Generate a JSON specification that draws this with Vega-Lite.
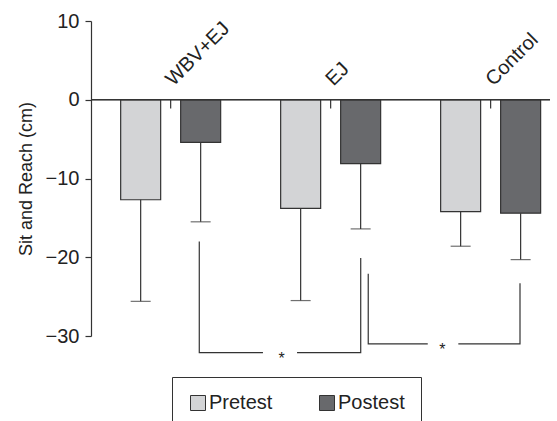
{
  "$schema": "https://vega.github.io/schema/vega-lite/v6.json",
  "width": 459,
  "height": 315,
  "autosize": {"type": "none"},
  "padding": {"left": 91, "top": 21, "right": 7, "bottom": 85},
  "config": {
    "font": "Liberation Sans",
    "view": {"stroke": null},
    "axis": {"grid": false}
  },
  "datasets": {
    "bars": [
      {"group": "WBV+EJ", "test": "Pretest", "mean": -12.7, "low": -25.6},
      {"group": "WBV+EJ", "test": "Postest", "mean": -5.4, "low": -15.5},
      {"group": "EJ", "test": "Pretest", "mean": -13.8, "low": -25.5},
      {"group": "EJ", "test": "Postest", "mean": -8.1, "low": -16.4},
      {"group": "Control", "test": "Pretest", "mean": -14.2, "low": -18.6},
      {"group": "Control", "test": "Postest", "mean": -14.4, "low": -20.3}
    ],
    "groups": [
      {"group": "WBV+EJ"},
      {"group": "EJ"},
      {"group": "Control"}
    ],
    "brackets": [
      {"seg": "b1L", "ord": 1, "pos": 1.183, "val": -18.0},
      {"seg": "b1L", "ord": 2, "pos": 1.183, "val": -32.1},
      {"seg": "b1L", "ord": 3, "pos": 1.581, "val": -32.1},
      {"seg": "b1R", "ord": 1, "pos": 1.794, "val": -32.1},
      {"seg": "b1R", "ord": 2, "pos": 2.192, "val": -32.1},
      {"seg": "b1R", "ord": 3, "pos": 2.192, "val": -20.1},
      {"seg": "b2L", "ord": 1, "pos": 2.239, "val": -22.1},
      {"seg": "b2L", "ord": 2, "pos": 2.239, "val": -31.0},
      {"seg": "b2L", "ord": 3, "pos": 2.611, "val": -31.0},
      {"seg": "b2R", "ord": 1, "pos": 2.802, "val": -31.0},
      {"seg": "b2R", "ord": 2, "pos": 3.1875, "val": -31.0},
      {"seg": "b2R", "ord": 3, "pos": 3.1875, "val": -23.3}
    ],
    "stars": [
      {"pos": 1.697, "val": -32.1, "label": "*"},
      {"pos": 2.702, "val": -31.0, "label": "*"}
    ]
  },
  "resolve": {"scale": {"x": "independent"}, "axis": {"x": "independent"}},
  "layer": [
    {
      "layer": [
        {
          "data": {"name": "bars"},
          "mark": {"type": "bar", "stroke": "#333333", "strokeWidth": 1.2},
          "encoding": {
            "x": {
              "field": "group", "type": "nominal", "axis": null,
              "scale": {"domain": ["WBV+EJ", "EJ", "Control"], "paddingInner": 0.375, "paddingOuter": 0.122, "align": 0.76}
            },
            "xOffset": {
              "field": "test", "type": "nominal",
              "scale": {"domain": ["Pretest", "Postest"], "paddingInner": 0.3333, "paddingOuter": 0}
            },
            "y": {
              "field": "mean", "type": "quantitative",
              "scale": {"domain": [-30, 10], "nice": false, "zero": false},
              "axis": {
                "title": "Sit and Reach (cm)",
                "values": [10, 0, -10, -20, -30],
                "tickSize": 6,
                "tickWidth": 1.2,
                "tickColor": "#333333",
                "domainColor": "#333333",
                "domainWidth": 1.2,
                "labelFontSize": 20,
                "labelColor": "#222222",
                "labelPadding": 6,
                "titleFontSize": 18,
                "titleFontWeight": "normal",
                "titleColor": "#222222",
                "titlePadding": 10
              }
            },
            "y2": {"datum": 0},
            "color": {
              "field": "test", "type": "nominal",
              "scale": {"domain": ["Pretest", "Postest"], "range": ["#d3d4d6", "#68696c"]},
              "legend": {
                "title": null,
                "orient": "none",
                "legendX": 81,
                "legendY": 356,
                "direction": "horizontal",
                "padding": 16,
                "strokeColor": "#333333",
                "fillColor": "#ffffff",
                "symbolType": "square",
                "symbolSize": 225,
                "symbolStrokeColor": "#333333",
                "symbolStrokeWidth": 1,
                "labelFontSize": 20,
                "labelColor": "#222222",
                "labelOffset": 1,
                "columnPadding": 44
              }
            }
          }
        },
        {
          "data": {"name": "bars"},
          "mark": {"type": "rule", "color": "#333333", "strokeWidth": 1.2},
          "encoding": {
            "x": {"field": "group", "type": "nominal"},
            "xOffset": {"field": "test", "type": "nominal"},
            "y": {"field": "mean", "type": "quantitative"},
            "y2": {"field": "low"}
          }
        },
        {
          "data": {"name": "bars"},
          "mark": {"type": "tick", "color": "#333333", "size": 20, "thickness": 1.2},
          "encoding": {
            "x": {"field": "group", "type": "nominal"},
            "xOffset": {"field": "test", "type": "nominal"},
            "y": {"field": "low", "type": "quantitative"}
          }
        },
        {
          "data": {"name": "groups"},
          "mark": {"type": "rule", "color": "#333333", "strokeWidth": 1.2},
          "encoding": {
            "x": {"field": "group", "type": "nominal"},
            "y": {"datum": 0},
            "y2": {"datum": -1.1}
          }
        },
        {
          "data": {"name": "groups"},
          "mark": {"type": "text", "angle": 315, "align": "left", "baseline": "alphabetic", "fontSize": 20, "color": "#222222", "dx": 4},
          "encoding": {
            "x": {"field": "group", "type": "nominal"},
            "y": {"datum": 1.3},
            "text": {"field": "group"}
          }
        },
        {
          "data": {"name": "groups"},
          "mark": {"type": "rule", "color": "#333333", "strokeWidth": 1.2},
          "encoding": {
            "y": {"datum": 0}
          }
        }
      ]
    },
    {
      "layer": [
        {
          "data": {"name": "brackets"},
          "mark": {"type": "line", "color": "#333333", "strokeWidth": 1.2},
          "encoding": {
            "x": {"field": "pos", "type": "quantitative", "axis": null, "scale": {"domain": [0.50625, 3.375], "nice": false, "zero": false}},
            "y": {"field": "val", "type": "quantitative"},
            "detail": {"field": "seg"},
            "order": {"field": "ord"}
          }
        },
        {
          "data": {"name": "stars"},
          "mark": {"type": "text", "fontSize": 16, "color": "#222222", "baseline": "alphabetic", "dy": 11},
          "encoding": {
            "x": {"field": "pos", "type": "quantitative"},
            "y": {"field": "val", "type": "quantitative"},
            "text": {"field": "label"}
          }
        }
      ]
    }
  ]
}
